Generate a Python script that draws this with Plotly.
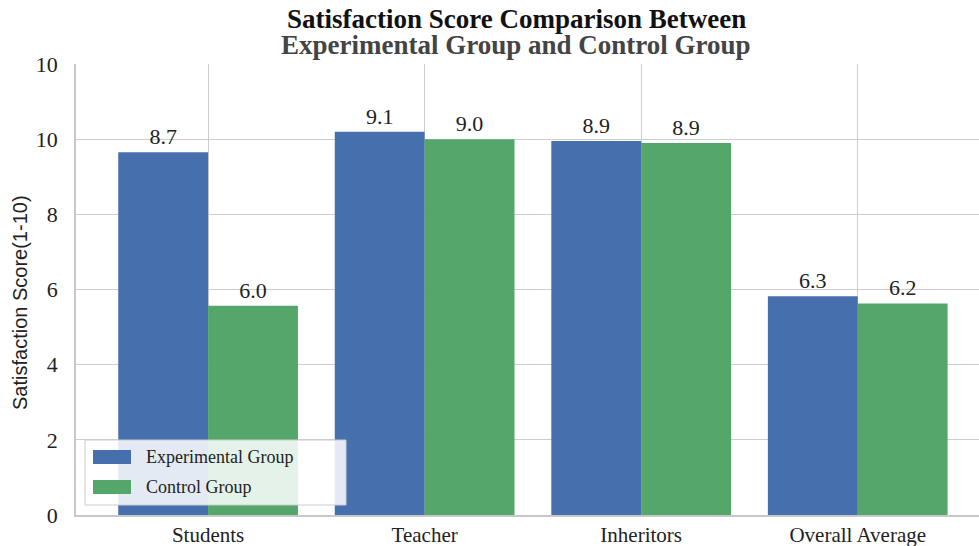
import plotly.graph_objects as go

categories = ["Students", "Teacher", "Inheritors", "Overall Average"]
# bar heights as drawn on the axis
experimental_heights = [9.65, 10.2, 9.95, 5.82]
control_heights = [5.57, 10.0, 9.9, 5.63]
# value labels printed above the bars
experimental_labels = ["8.7", "9.1", "8.9", "6.3"]
control_labels = ["6.0", "9.0", "8.9", "6.2"]
# y tick positions and labels as printed
y_tickvals = [0, 2, 4, 6, 8, 10, 12]
y_ticktext = ["0", "2", "4", "6", "8", "10", "10"]

BLUE = "#4670ad"
GREEN = "#55a66b"
SERIF = "Liberation Serif"
SANS = "Liberation Sans"

fig = go.Figure()
fig.add_trace(go.Bar(
    x=categories, y=experimental_heights, name="Experimental Group",
    marker=dict(color=BLUE, line=dict(width=0)),
    text=experimental_labels, textposition="outside", cliponaxis=False,
    textfont=dict(family=SERIF, size=22, color="#222"), showlegend=False,
))
fig.add_trace(go.Bar(
    x=categories, y=control_heights, name="Control Group",
    marker=dict(color=GREEN, line=dict(width=0)),
    text=control_labels, textposition="outside", cliponaxis=False,
    textfont=dict(family=SERIF, size=22, color="#222"), showlegend=False,
))

L, R, T, B = 76, 0, 64, 31
W, H = 979, 546
pw = W - L - R
ph = H - T - B

def px(x):
    return (x - L) / pw

def py(y):
    return (H - B - y) / ph

shapes = []
# legend box
shapes.append(dict(type="rect", xref="paper", yref="paper",
                   x0=px(85), x1=px(346), y0=py(505), y1=py(440),
                   fillcolor="rgba(255,255,255,0.85)",
                   line=dict(color="#cccccc", width=1), layer="above"))
shapes.append(dict(type="rect", xref="paper", yref="paper",
                   x0=px(93), x1=px(131), y0=py(464), y1=py(450),
                   fillcolor=BLUE, line=dict(width=0), layer="above"))
shapes.append(dict(type="rect", xref="paper", yref="paper",
                   x0=px(93), x1=px(131), y0=py(494), y1=py(480),
                   fillcolor=GREEN, line=dict(width=0), layer="above"))

annotations = [
    dict(text="Experimental Group", xref="paper", yref="paper",
         x=px(144), y=py(457), xanchor="left", yanchor="middle", showarrow=False,
         font=dict(family=SERIF, size=18, color="#222")),
    dict(text="Control Group", xref="paper", yref="paper",
         x=px(144), y=py(487), xanchor="left", yanchor="middle", showarrow=False,
         font=dict(family=SERIF, size=18, color="#222")),
    dict(text="<b>Satisfaction Score Comparison Between</b>", xref="paper", yref="paper",
         x=px(516), y=py(19), xanchor="center", yanchor="middle", showarrow=False,
         font=dict(family=SERIF, size=27, color="#111"), borderpad=0),
    dict(text="<b>Experimental Group and Control Group</b>", xref="paper", yref="paper",
         x=px(516), y=py(45), xanchor="center", yanchor="middle", showarrow=False,
         font=dict(family=SERIF, size=27, color="#444"), borderpad=0),
    dict(text="Satisfaction Score(1-10)", xref="paper", yref="paper",
         x=px(20), y=py(303), xanchor="center", yanchor="middle", showarrow=False,
         textangle=-90, font=dict(family=SANS, size=20, color="#222")),
]

fig.update_layout(
    width=W, height=H,
    margin=dict(l=L, r=R, t=T, b=B, pad=0, autoexpand=False),
    paper_bgcolor="white", plot_bgcolor="white",
    barmode="group", bargap=0.17, bargroupgap=0,
    shapes=shapes, annotations=annotations,
    font=dict(family=SERIF),
)
fig.update_xaxes(
    range=[-0.61, 3.56], showgrid=True, gridcolor="rgba(200,200,200,0.9)", gridwidth=1.3,
    showline=True, linecolor="#c8c8c8", linewidth=1.5, automargin=False,
    tickfont=dict(family=SERIF, size=21, color="#222"), ticks="", ticklabelstandoff=0,
    layer="above traces",
)
fig.update_yaxes(
    range=[0, 12], tickvals=y_tickvals, ticktext=y_ticktext, automargin=False,
    showgrid=True, gridcolor="rgba(200,200,200,0.9)", gridwidth=1.3,
    showline=True, linecolor="#c8c8c8", linewidth=1.5, zeroline=False,
    tickfont=dict(family=SERIF, size=22, color="#222"), ticks="", ticklabelstandoff=12,
    layer="above traces",
)

fig.write_html(
    "out.html",
    config={"displayModeBar": False},
    post_script="document.body.style.margin='0';document.body.style.overflow='hidden';",
)
